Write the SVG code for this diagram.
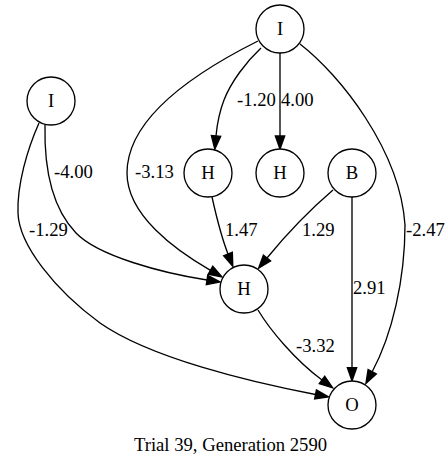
<svg xmlns="http://www.w3.org/2000/svg" width="448" height="460" viewBox="0 0 448 460">
<style>
.n circle{fill:#fff;stroke:#000;stroke-width:1.33}
text{font-family:"Liberation Serif","Times New Roman",serif;font-size:18.67px;fill:#000}
.n text{text-anchor:middle}
.e path{fill:none;stroke:#000;stroke-width:1.33;marker-end:url(#ah)}
</style>
<defs>
<marker id="ah" viewBox="0 0 10 7" refX="0" refY="3.5" markerWidth="13.3" markerHeight="9.33" markerUnits="userSpaceOnUse" orient="auto" overflow="visible">
<path d="M0,0 L10,3.5 L0,7 z" fill="#000" stroke="#000" stroke-width="1"/>
</marker>
</defs>
<rect width="448" height="460" fill="#fff"/>
<g id="edges" class="e">
<path d="M261,48 C246,62 231,82 224,100 C219,113 217,125 216,136"/>
<path d="M280,53 L280,136"/>
<path d="M258,41 C190,75 127,120 127,173 C127,215 175,250 210.5,270.3"/>
<path d="M300,44 C340,75 400,150 405,225 C405,280 392,335 372.2,371.8"/>
<path d="M45,125 C44,170 52,208 76,233 C98,256 162,273 207,280"/>
<path d="M39,123 C27,150 17,185 18,213 C19,245 55,290 100,323 C150,358 250,382 315.5,394.5"/>
<path d="M212,197 C216,215 221,236 228,254"/>
<path d="M333,190 C312,208 285,236 267,258"/>
<path d="M352,197 L352,367.7"/>
<path d="M258,310 C270,330 295,360 322,380"/>
</g>
<g id="edge-labels">
<text x="237" y="106">-1.20</text>
<text x="281" y="106">4.00</text>
<text x="135" y="178">-3.13</text>
<text x="54" y="178">-4.00</text>
<text x="29" y="236">-1.29</text>
<text x="225" y="236">1.47</text>
<text x="302" y="236">1.29</text>
<text x="406" y="236">-2.47</text>
<text x="353" y="294">2.91</text>
<text x="296" y="352">-3.32</text>
</g>
<g id="n_i_top" class="n"><circle cx="280" cy="29" r="24"/><text x="280" y="34.5">I</text></g>
<g id="n_i_left" class="n"><circle cx="51" cy="101" r="24"/><text x="51" y="106.5">I</text></g>
<g id="n_h1" class="n"><circle cx="208" cy="173" r="24"/><text x="208" y="178.5">H</text></g>
<g id="n_h2" class="n"><circle cx="280" cy="173" r="24"/><text x="280" y="178.5">H</text></g>
<g id="n_b" class="n"><circle cx="352" cy="173" r="24"/><text x="352" y="178.5">B</text></g>
<g id="n_hmid" class="n"><circle cx="244" cy="289" r="24"/><text x="244" y="294.5">H</text></g>
<g id="n_o" class="n"><circle cx="352" cy="405" r="24"/><text x="352" y="410.5">O</text></g>
<text x="230.5" y="451" text-anchor="middle">Trial 39, Generation 2590</text>
</svg>
